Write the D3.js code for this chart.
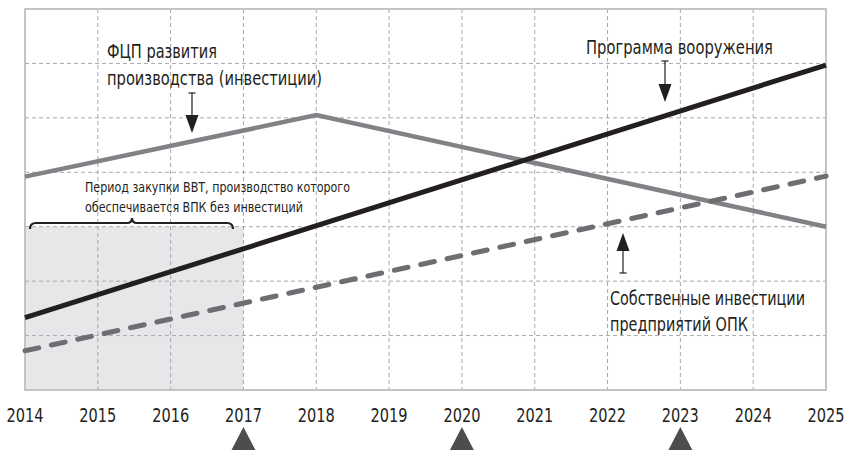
<!DOCTYPE html>
<html><head><meta charset="utf-8">
<script src="https://cdn.jsdelivr.net/npm/d3@7"></script>
<style>
html,body{margin:0;padding:0;background:#fff;}
text{font-family:"DejaVu Sans Condensed","Liberation Sans Narrow",sans-serif;fill:#231f20;}
</style></head><body>
<svg id="c" width="847" height="450"></svg>
<script>
// ---- data ----
const years = [2014,2015,2016,2017,2018,2019,2020,2021,2022,2023,2024,2025];
const yTicks = [0,1,2,3,4,5,6,7];
const fcpYears = [2014, 2018, 2025];
const fcpValues = [3.92, 5.05, 3.0];
const armsYears = [2014, 2025];
const armsValues = [1.33, 5.97];
const ownYears = [2014, 2025];
const ownValues = [0.72, 3.93];
const shadeYears = [2014, 2017];
const shadeTop = 3;
const milestones = [2017, 2020, 2023];
const labelFcp = ["ФЦП развития", "производства (инвестиции)"];
const labelArms = ["Программа вооружения"];
const labelOwn = ["Собственные инвестиции", "предприятий ОПК"];
const labelPeriod = ["Период закупки ВВТ, производство которого", "обеспечивается ВПК без инвестиций"];

// ---- layout ----
const svg = d3.select("#c");
const x = d3.scaleLinear().domain([2014, 2025]).range([25, 826]);
const y = d3.scaleLinear().domain([0, 7]).range([390, 9]);

// shaded period
svg.append("rect")
  .attr("x", x(shadeYears[0])).attr("y", y(shadeTop))
  .attr("width", x(shadeYears[1]) - x(shadeYears[0]))
  .attr("height", y(0) - y(shadeTop))
  .attr("fill", "#e6e7e8");

// grid
const g = svg.append("g");
g.selectAll("line.v").data(years.slice(1, -1)).join("line")
  .attr("x1", d => x(d)).attr("x2", d => x(d))
  .attr("y1", y(7)).attr("y2", y(0))
  .attr("stroke", "#a7a9ac").attr("stroke-width", 1).attr("stroke-dasharray", "4,3");
g.selectAll("line.h").data(yTicks.slice(1, -1)).join("line")
  .attr("x1", x(2014)).attr("x2", x(2025))
  .attr("y1", d => y(d)).attr("y2", d => y(d))
  .attr("stroke", "#a7a9ac").attr("stroke-width", 1).attr("stroke-dasharray", "4,3");

// frame
svg.append("rect")
  .attr("x", x(2014)).attr("y", y(7))
  .attr("width", x(2025) - x(2014)).attr("height", y(0) - y(7))
  .attr("fill", "none").attr("stroke", "#bcbec0").attr("stroke-width", 1.8);

// lines
const line = d3.line().x(d => x(d[0])).y(d => y(d[1]));
svg.append("path").datum(d3.zip(fcpYears, fcpValues)).attr("d", line)
  .attr("fill", "none").attr("stroke", "#808285").attr("stroke-width", 4.5);
svg.append("path").datum(d3.zip(ownYears, ownValues)).attr("d", line)
  .attr("fill", "none").attr("stroke", "#6d6e71").attr("stroke-width", 5)
  .attr("stroke-dasharray", "14,13").attr("stroke-linecap", "round");
svg.append("path").datum(d3.zip(armsYears, armsValues)).attr("d", line)
  .attr("fill", "none").attr("stroke", "#231f20").attr("stroke-width", 5);

// x axis labels
svg.selectAll("text.yr").data(years).join("text")
  .attr("x", d => x(d) - 18.5).attr("y", 422)
  .attr("font-size", 20)
  .attr("textLength", 37).attr("lengthAdjust", "spacingAndGlyphs")
  .text(d => d);

// milestone triangles
svg.selectAll("path.ms").data(milestones).join("path")
  .attr("d", d => `M${x(d)},427 L${x(d)+14},454 L${x(d)-14},454 Z`)
  .attr("fill", "#4d4d4f");

// arrows
function arrow(xp, yTail, yTip) {
  const dir = yTip > yTail ? 1 : -1;
  const headLen = 18, headW = 6.5;
  svg.append("line").attr("x1", xp - 3.5).attr("x2", xp + 3.5)
    .attr("y1", yTail).attr("y2", yTail).attr("stroke", "#231f20").attr("stroke-width", 1.2);
  svg.append("line").attr("x1", xp).attr("x2", xp)
    .attr("y1", yTail).attr("y2", yTip - dir * headLen).attr("stroke", "#231f20").attr("stroke-width", 1.2);
  svg.append("path")
    .attr("d", `M${xp},${yTip} L${xp + headW},${yTip - dir * headLen} L${xp - headW},${yTip - dir * headLen} Z`)
    .attr("fill", "#231f20");
}
arrow(192, 93, 133);
arrow(665, 61, 102);
arrow(623, 273, 233);

// labels (widths matched to the condensed face of the original)
function label(lines, widths, xp, yp, size, lh) {
  lines.forEach((s, i) => svg.append("text")
    .attr("x", xp).attr("y", yp + i * lh).attr("font-size", size)
    .attr("textLength", widths[i]).attr("lengthAdjust", "spacingAndGlyphs")
    .text(s));
}
label(labelFcp, [110, 215], 107, 58, 20, 27);
label(labelArms, [187], 586, 54, 20, 27);
label(labelOwn, [195, 138], 610, 305, 20, 26);
label(labelPeriod, [265, 218], 85, 192, 14, 20);

// brace
const bx0 = 30, bx1 = 233, bm = 132, by = 223;
svg.append("path")
  .attr("d", `M${bx0},${by+6} Q${bx0},${by} ${bx0+6},${by} L${bm-5},${by} Q${bm},${by} ${bm},${by-5} Q${bm},${by} ${bm+5},${by} L${bx1-6},${by} Q${bx1},${by} ${bx1},${by+6}`)
  .attr("fill", "none").attr("stroke", "#231f20").attr("stroke-width", 2.2);
</script>
</body></html>
